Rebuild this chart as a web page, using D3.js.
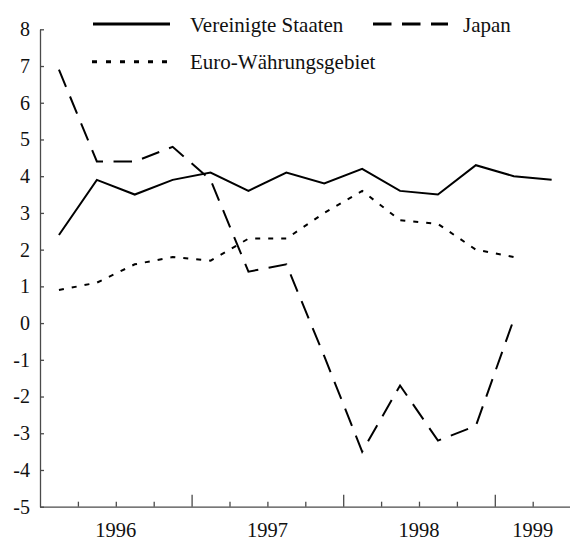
<!DOCTYPE html>
<html>
<head>
<meta charset="utf-8">
<script src="https://cdn.jsdelivr.net/npm/d3@7"></script>
<style>
  html, body { margin: 0; padding: 0; background: #fff; }
  svg text { font-family: "Liberation Serif", "Times New Roman", serif !important; fill: #111; }
</style>
</head>
<body>
<svg id="chart" width="570" height="539"></svg>
<script>
// ---- data ----
const quarters = ["1996Q1","1996Q2","1996Q3","1996Q4","1997Q1","1997Q2","1997Q3","1997Q4",
                  "1998Q1","1998Q2","1998Q3","1998Q4","1999Q1","1999Q2"];
const years = ["1996","1997","1998","1999"];
const usValues    = [2.4, 3.9, 3.5, 3.9, 4.1, 3.6, 4.1, 3.8, 4.2, 3.6, 3.5, 4.3, 4.0, 3.9];
const japanValues = [6.9, 4.4, 4.4, 4.8, 3.9, 1.4, 1.6, -0.9, -3.5, -1.7, -3.2, -2.8, 0.1];
const euroValues  = [0.9, 1.1, 1.6, 1.8, 1.7, 2.3, 2.3, 3.0, 3.6, 2.8, 2.7, 2.0, 1.8];
const yTicks = [-5,-4,-3,-2,-1,0,1,2,3,4,5,6,7,8];
const seriesNames = ["Vereinigte Staaten", "Japan", "Euro-Währungsgebiet"];

// ---- layout ----
const svg = d3.select("#chart");
const mLeft = 40, mRight = 570.6, mTop = 29.3, mBottom = 506.7;
const serif = '"Liberation Serif", "Times New Roman", serif';

const x = d3.scaleBand().domain(quarters).range([mLeft, mRight]).padding(0);
const xLin = d3.scaleLinear().domain([0, quarters.length]).range([mLeft, mRight]);
const y = d3.scaleLinear().domain([-5, 8]).range([mBottom, mTop]);

const axisColor = "#4a4a4a";

// Y axis
const yAxis = svg.append("g")
  .attr("transform", `translate(${mLeft},0)`)
  .call(d3.axisLeft(y).tickValues(yTicks).tickSize(-4).tickPadding(10).tickFormat(d3.format("d")).tickSizeOuter(0));
yAxis.attr("font-family", serif).attr("font-size", 20);
yAxis.select(".domain").attr("stroke", axisColor).attr("stroke-width", 1.3);
yAxis.selectAll(".tick line").attr("stroke", axisColor).attr("stroke-width", 1.3);
yAxis.selectAll(".tick text")
  .style("font-family", serif).style("font-size", "20px").attr("fill", "#111")
  .text(d => d < 0 ? "-" + Math.abs(d) : String(d));

// X axis (quarter boundaries)
const boundaries = d3.range(1, quarters.length + 1);
const xAxis = svg.append("g")
  .attr("transform", `translate(0,${mBottom})`)
  .call(d3.axisBottom(xLin).tickValues(boundaries).tickSizeOuter(0).tickFormat(""));
xAxis.select(".domain").attr("stroke", axisColor).attr("stroke-width", 1.3);
xAxis.selectAll(".tick line")
  .attr("stroke", axisColor).attr("stroke-width", 1.3)
  .attr("y2", d => (d % 4 === 0) ? -12 : -5);

// Year labels: centred on the quarters of each year present
years.forEach(yr => {
  const qs = quarters.filter(q => q.startsWith(yr));
  const x0 = x(qs[0]), x1 = x(qs[qs.length - 1]) + x.bandwidth();
  svg.append("text")
    .attr("x", (x0 + x1) / 2)
    .attr("y", 536.5)
    .attr("text-anchor", "middle")
    .style("font-family", serif).style("font-size", "20.5px")
    .text(yr);
});

// Lines
const line = d3.line()
  .x((d, i) => x(quarters[i]) + x.bandwidth() / 2)
  .y(d => y(d));

const styles = [
  { values: usValues, dash: null },
  { values: japanValues, dash: "18.5,10.5" },
  { values: euroValues, dash: "5,8" }
];

styles.forEach(s => {
  svg.append("path")
    .datum(s.values)
    .attr("fill", "none")
    .attr("stroke", "#000")
    .attr("stroke-width", 2)
    .attr("stroke-dasharray", s.dash)
    .attr("d", line);
});

// Legend
const legendItems = [
  { name: seriesNames[0], dash: null, x1: 93, x2: 170, ty: 24, tx: 190 },
  { name: seriesNames[1], dash: "18.5,10.5", x1: 373, x2: 448, ty: 24, tx: 463 },
  { name: seriesNames[2], dash: "5,9", x1: 92, x2: 172, ty: 61.7, tx: 190 }
];
legendItems.forEach(l => {
  svg.append("line")
    .attr("x1", l.x1).attr("x2", l.x2)
    .attr("y1", l.ty).attr("y2", l.ty)
    .attr("stroke", "#000").attr("stroke-width", 3)
    .attr("stroke-dasharray", l.dash);
  svg.append("text")
    .attr("x", l.tx).attr("y", l.ty + 7.5)
    .style("font-family", serif).style("font-size", "21px")
    .text(l.name);
});
</script>
</body>
</html>
